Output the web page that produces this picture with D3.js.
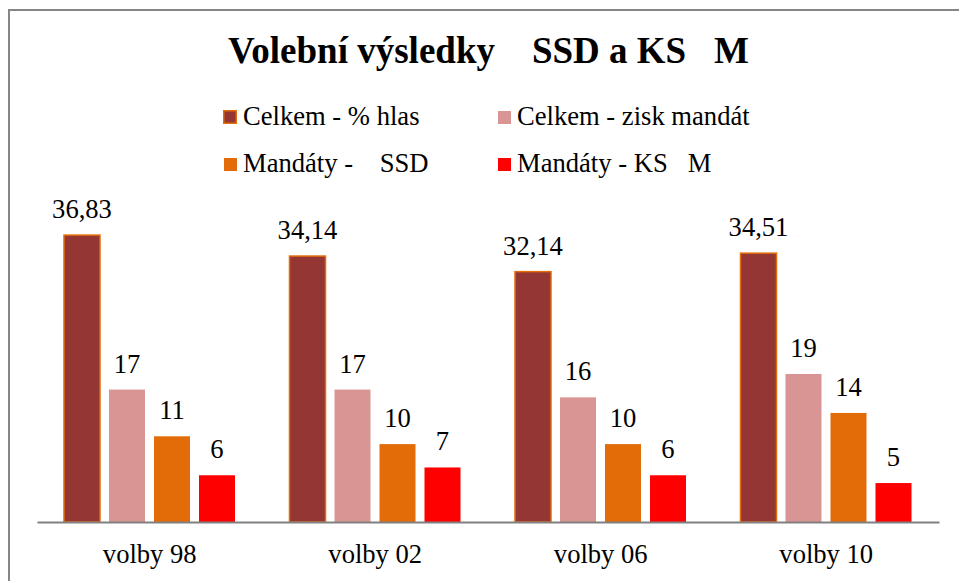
<!DOCTYPE html>
<html>
<head>
<meta charset="utf-8">
<script src="https://cdn.jsdelivr.net/npm/d3@7"></script>
<style>
  body { margin: 0; background: #fff; }
  svg text { font-family: "Liberation Serif", "DejaVu Serif", serif; white-space: pre; fill: #000; }
</style>
</head>
<body>
<div id="chart"></div>
<script>
// data
var categories = ["volby 98", "volby 02", "volby 06", "volby 10"];
var seriesNames = ["Celkem - % hlas", "Celkem - zisk mandát", "Mandáty -    SSD", "Mandáty - KS   M"];
var hlasy = [36.83, 34.14, 32.14, 34.51];
var ziskMandatu = [17, 17, 16, 19];
var mandatySSD = [11, 10, 10, 14];
var mandatyKSM = [6, 7, 6, 5];
var colors = ["#943634", "#D99594", "#E36C09", "#FF0000"];

var width = 959, height = 581;
var serif = "Liberation Serif";
var fs = 26.6;

var seriesValues = [hlasy, ziskMandatu, mandatySSD, mandatyKSM];
var rows = categories.map(function (c, i) {
    return { cat: c, vals: seriesValues.map(function (s, j) { return { key: j, v: s[i] }; }) };
});

var svg = d3.select("#chart").append("svg")
    .attr("width", width)
    .attr("height", height);

svg.append("rect")
    .attr("width", width).attr("height", height)
    .attr("fill", "#fff");

// chart frame (runs off the right / bottom)
svg.append("rect")
    .attr("x", 9).attr("y", 10)
    .attr("width", 980).attr("height", 620)
    .attr("fill", "none")
    .attr("stroke", "#868686")
    .attr("stroke-width", 2);

// title
svg.append("text")
    .attr("x", 228).attr("y", 63)
    .attr("font-family", serif)
    .attr("font-size", 37)
    .attr("font-weight", "bold")
    .text("Volební výsledky    SSD a KS   M");

// scales
var x0 = d3.scaleBand().domain(categories).range([37, 939]);
var x1 = d3.scaleBand().domain(d3.range(4)).range([27, 198]).paddingInner(0.2);
var y = d3.scaleLinear().domain([0, 40]).range([522, 522 - 311.6]);

var groups = svg.append("g").selectAll("g")
    .data(rows)
    .join("g")
    .attr("transform", function (d) { return "translate(" + x0(d.cat) + ",0)"; });

groups.selectAll("rect")
    .data(function (d) { return d.vals; })
    .join("rect")
    .attr("x", function (d) { return x1(d.key); })
    .attr("y", function (d) { return y(d.v); })
    .attr("width", x1.bandwidth())
    .attr("height", function (d) { return y(0) - y(d.v); })
    .attr("fill", function (d) { return colors[d.key]; })
    .attr("stroke", function (d) { return d.key === 0 ? "#E36C09" : "none"; })
    .attr("stroke-width", 1.5);

var fmt = function (v) { return Number.isInteger(v) ? String(v) : v.toFixed(2).replace(".", ","); };

groups.selectAll("text")
    .data(function (d) { return d.vals; })
    .join("text")
    .attr("x", function (d) { return x1(d.key) + x1.bandwidth() / 2; })
    .attr("y", function (d) { return y(d.v) - 17; })
    .attr("text-anchor", "middle")
    .attr("font-family", serif)
    .attr("font-size", fs)
    .text(function (d) { return fmt(d.v); });

// category axis
var xAxis = svg.append("g")
    .attr("transform", "translate(0," + y(0) + ")")
    .call(d3.axisBottom(x0).tickSize(0).tickPadding(0))
    .attr("font-family", serif);
xAxis.select(".domain").attr("stroke", "#808080").attr("stroke-width", 2);
xAxis.selectAll("text")
    .attr("font-family", serif)
    .attr("font-size", fs)
    .attr("fill", "#000")
    .attr("dy", null)
    .attr("y", 41);

// legend
var legendPos = [[223, 110], [497, 110], [223, 157], [497, 157]];
var legend = svg.append("g").selectAll("g")
    .data(seriesNames)
    .join("g")
    .attr("transform", function (d, i) { return "translate(" + legendPos[i][0] + "," + legendPos[i][1] + ")"; });

legend.append("rect")
    .attr("x", function (d, i) { return i === 0 ? 0.75 : 1; })
    .attr("y", function (d, i) { return i === 0 ? 0.75 : 1; })
    .attr("width", function (d, i) { return i === 0 ? 12.5 : 13; })
    .attr("height", function (d, i) { return i === 0 ? 12.5 : 13; })
    .attr("fill", function (d, i) { return colors[i]; })
    .attr("stroke", function (d, i) { return i === 0 ? "#E36C09" : "none"; })
    .attr("stroke-width", 1.5);

legend.append("text")
    .attr("x", 20)
    .attr("y", 15)
    .attr("font-family", serif)
    .attr("font-size", fs)
    .text(function (d) { return d; });
</script>
</body>
</html>
